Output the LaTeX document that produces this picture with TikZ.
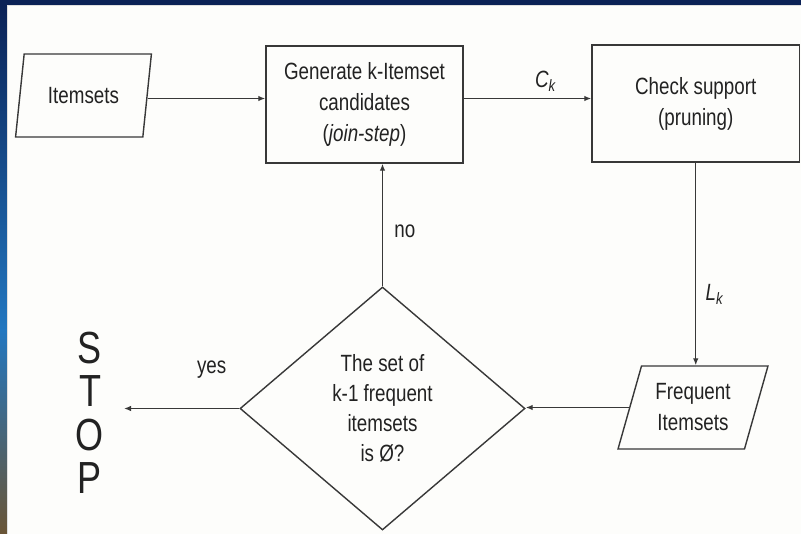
\documentclass[tikz,border=0pt]{standalone}
\usepackage{fontspec}
\setmainfont{Liberation Sans}[FakeStretch=0.8]
\usetikzlibrary{arrows.meta,shapes.geometric}

\definecolor{ink}{HTML}{383838}
\definecolor{textink}{HTML}{222222}
\definecolor{paper}{HTML}{FDFDFB}
\definecolor{navy}{HTML}{0B2256}
\definecolor{skyblue}{HTML}{2277C0}
\definecolor{earth}{HTML}{6A5536}

\begin{document}
\begin{tikzpicture}[x=1pt,y=-1pt,
  every node/.style={font=\fontsize{23.5}{31}\selectfont, text=textink},
  proc/.style={draw=ink, line width=1.4pt, align=center, inner sep=0pt},
  io/.style={draw=ink, line width=1.4pt, trapezium, trapezium stretches=true,
    align=center, inner sep=0pt, minimum height=83pt},
  decision/.style={draw=ink, line width=1.4pt, diamond, align=center, inner sep=0pt,
    minimum width=285pt, minimum height=243pt, font=\fontsize{23.5}{30}\selectfont},
  flow/.style={draw=ink, line width=1.3pt, -{Latex[length=7pt,width=5.5pt]}},
  lbl/.style={font=\fontsize{23.5}{28}\selectfont}]

% slide frame and page
\useasboundingbox (0,0) rectangle (801,534);
\fill[navy] (0,0) rectangle (801,534);
\shade[top color=navy, bottom color=skyblue] (0,5) rectangle (7,330);
\shade[top color=skyblue, bottom color=earth] (0,330) rectangle (7,534);
\fill[paper] (7,5) rectangle (801,534);
\draw[gray!25, line width=0.8pt] (7.4,534) -- (7.4,5.4) -- (801,5.4);

% blocks
\node[io, trapezium left angle=72.6, trapezium right angle=107.4,
  minimum width=137pt] (items) at (83.5,95.5) {Itemsets};
\node[proc, minimum width=197pt, minimum height=117pt] (gen) at (364.5,104.5)
  {Generate k-Itemset\\candidates\\({\itshape join-step})};
\node[proc, minimum width=207.5pt, minimum height=117pt] (check) at (695.75,103.5)
  {Check support\\(pruning)};
\node[io, trapezium left angle=70.1, trapezium right angle=109.9,
  minimum width=150pt] (freq) at (693,407.5) {Frequent\\Itemsets};
\node[decision] (dec) at (382.5,408.5)
  {The set of\\k-1 frequent\\itemsets\\is Ø?};
\node[font=\fontsize{45}{43.5}\selectfont, align=center, inner sep=0pt] (stop) at (90,413)
  {S\\T\\O\\P};
\coordinate (stopin) at (124,408.5);

% connectors
\draw[flow] ([yshift=-3pt]items.right side) -- ([yshift=-3pt]items.right side -| gen.west);
\draw[flow] ([yshift=6pt]gen.east) -- node[lbl, pos=0.64, above=3pt]
  {\itshape C\textsubscript{k}} ([yshift=6pt]gen.east -| check.west);
\draw[flow] (check.south) -- node[lbl, pos=0.65, right=6pt]
  {\itshape L\textsubscript{k}} (check.south |- freq.top side);
\draw[flow] (freq.left side) -- (freq.left side -| dec.east);
\draw[flow] (dec.north) -- node[lbl, pos=0.45, right=8pt] {no} (dec.north |- gen.south);
\draw[flow] (dec.west) -- node[lbl, pos=0.24, above=26pt] {yes} (stopin);
\end{tikzpicture}
\end{document}
